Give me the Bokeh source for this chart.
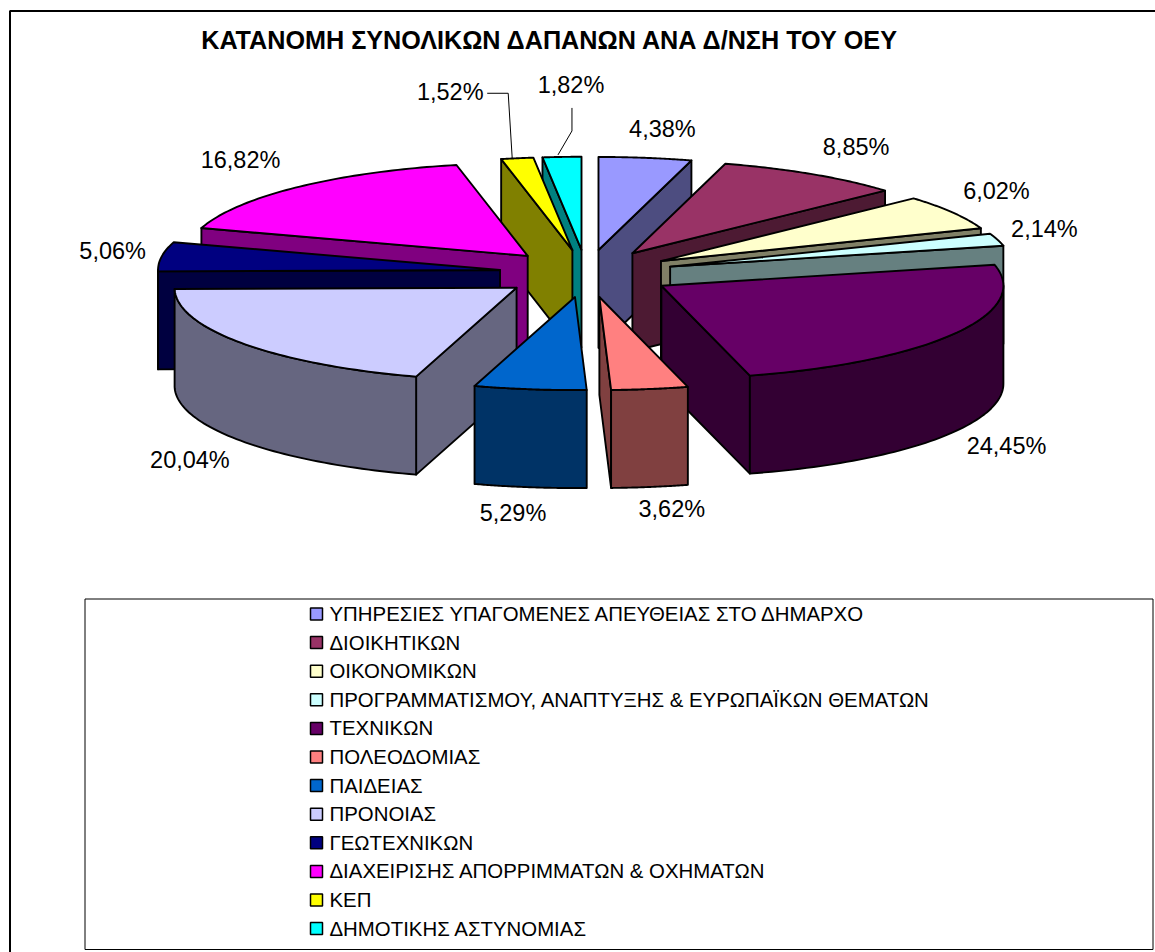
import numpy as np
from bokeh.plotting import figure
from bokeh.models import Range1d
from bokeh.core.properties import value
from bokeh.embed import file_html
from bokeh.resources import INLINE

# ---- data ----
categories = [
    "ΥΠΗΡΕΣΙΕΣ ΥΠΑΓΟΜΕΝΕΣ ΑΠΕΥΘΕΙΑΣ ΣΤΟ ΔΗΜΑΡΧΟ",
    "ΔΙΟΙΚΗΤΙΚΩΝ",
    "ΟΙΚΟΝΟΜΙΚΩΝ",
    "ΠΡΟΓΡΑΜΜΑΤΙΣΜΟΥ, ΑΝΑΠΤΥΞΗΣ & ΕΥΡΩΠΑΪΚΩΝ ΘΕΜΑΤΩΝ",
    "ΤΕΧΝΙΚΩΝ",
    "ΠΟΛΕΟΔΟΜΙΑΣ",
    "ΠΑΙΔΕΙΑΣ",
    "ΠΡΟΝΟΙΑΣ",
    "ΓΕΩΤΕΧΝΙΚΩΝ",
    "ΔΙΑΧΕΙΡΙΣΗΣ ΑΠΟΡΡΙΜΜΑΤΩΝ & ΟΧΗΜΑΤΩΝ",
    "ΚΕΠ",
    "ΔΗΜΟΤΙΚΗΣ ΑΣΤΥΝΟΜΙΑΣ",
]
shares = [4.38, 8.85, 6.02, 2.14, 24.45, 3.62, 5.29, 20.04, 5.06, 16.82, 1.52, 1.82]
top_colors = ["#9999FF", "#993366", "#FFFFCC", "#CCFFFF", "#660066", "#FF8080",
              "#0066CC", "#CCCCFF", "#000080", "#FF00FF", "#FFFF00", "#00FFFF"]
side_colors = ["#4D4D80", "#4D1A33", "#808066", "#668080", "#330033", "#804040",
               "#003366", "#666680", "#000040", "#800080", "#808000", "#008080"]
title = "ΚΑΤΑΝΟΜΗ ΣΥΝΟΛΙΚΩΝ ΔΑΠΑΝΩΝ ΑΝΑ Δ/ΝΣΗ ΤΟΥ ΟΕΥ"

# ---- layout (pixels of the page) ----
W, H = 1155, 952
CX, CY, RX, RY, DEPTH, EXPLODE = 586.0, 273.0, 342.0, 93.0, 98.0, 0.2555
FONT = value("Liberation Sans")
LABEL_OFFSETS = [(17, -29), (44, -27), (44, -21), (47, -11), (52, 112), (22, 120),
                 (-17, 124), (-53, 116), (-49, -6), (-57, -27), (-67, -66), (9, -72)]
LEG_Y0, LEG_DY, LEG_MX, LEG_TX = 613.5, 28.6, 316.0, 329.0

p = figure(width=W, height=H, output_backend="svg", toolbar_location=None,
           x_range=Range1d(0, W), y_range=Range1d(H, 0),
           min_border=0, outline_line_color=None)
p.axis.visible = False
p.grid.visible = False

# ---- chart frame ----
p.line([9.5, 9.5, W], [H, 10.5, 10.5], line_color="black", line_width=2)

# ---- pie geometry ----
edges = np.concatenate([[0.0], np.cumsum(shares)]) / np.sum(shares) * 360.0


def ell(th, ax, ay):
    r = np.radians(th)
    return ax + RX * np.sin(r), ay - RY * np.cos(r)


xs, ys, fills, rim_mid = [], [], [], []
faces = []
for i in range(len(shares)):
    a0, a1 = edges[i], edges[i + 1]
    mid = np.radians((a0 + a1) / 2)
    ax = CX + EXPLODE * RX * np.sin(mid)
    ay = CY - EXPLODE * RY * np.cos(mid)
    rim_mid.append(ell(np.degrees(mid), ax, ay))
    slice_faces = []
    # radial walls
    if a1 < 180:
        ex, ey = ell(a1, ax, ay)
        slice_faces.append(([ax, ex, ex, ax], [ay, ey, ey + DEPTH, ay + DEPTH], side_colors[i]))
    if a0 > 180:
        ex, ey = ell(a0, ax, ay)
        slice_faces.append(([ax, ex, ex, ax], [ay, ey, ey + DEPTH, ay + DEPTH], side_colors[i]))
    # outer rim, front half only
    r0, r1 = max(a0, 90.0), min(a1, 270.0)
    if r1 > r0:
        t = np.linspace(r0, r1, 60)
        rx, ry = ell(t, ax, ay)
        slice_faces.append((list(rx) + list(rx[::-1]), list(ry) + list(ry[::-1] + DEPTH), side_colors[i]))
    # top
    t = np.linspace(a0, a1, 60)
    tx, ty = ell(t, ax, ay)
    slice_faces.append(([ax] + list(tx), [ay] + list(ty), top_colors[i]))
    faces.append((-np.cos(mid), slice_faces))

for _, sf in sorted(faces, key=lambda f: f[0]):
    for fx, fy, c in sf:
        xs.append(fx)
        ys.append(fy)
        fills.append(c)

p.patches(xs, ys, fill_color=fills, line_color="black", line_width=1.9, line_join="round")

# ---- data labels ----
lab_x = [m[0] + o[0] for m, o in zip(rim_mid, LABEL_OFFSETS)]
lab_y = [m[1] + o[1] for m, o in zip(rim_mid, LABEL_OFFSETS)]
lab_t = [f"{v:.2f}%".replace(".", ",") for v in shares]
p.text(lab_x, lab_y, text=lab_t, text_font=FONT, text_font_size="23.5px",
       text_align="center", text_baseline="middle", text_color="black")

# ---- leader lines ----
kx, ky = rim_mid[10]
p.line([lab_x[10] + 37, kx - 9, kx - 5], [lab_y[10] + 1, lab_y[10] + 1, ky], line_color="black", line_width=1)
dx, dy = rim_mid[11]
p.line([lab_x[11] + 1, lab_x[11] + 1, dx - 4], [lab_y[11] + 23, lab_y[11] + 46, dy - 2], line_color="black", line_width=1)

# ---- title ----
p.text([550], [39], text=[title], text_font=FONT, text_font_size="25.2px", text_font_style="bold",
       text_align="center", text_baseline="middle", text_color="black")

# ---- legend ----
p.quad(left=[84.5], right=[1152.5], top=[598.5], bottom=[949], fill_color="white",
       line_color="black", line_width=1)
ly = [LEG_Y0 + LEG_DY * i for i in range(len(categories))]
p.scatter([LEG_MX] * len(ly), ly, marker="square", size=12, fill_color=top_colors,
          line_color="black", line_width=1.5)
p.text([LEG_TX] * len(ly), ly, text=categories, text_font=FONT, text_font_size="20.4px",
       text_align="left", text_baseline="middle", text_color="black")

open("out.html", "w").write(file_html(p, INLINE))
